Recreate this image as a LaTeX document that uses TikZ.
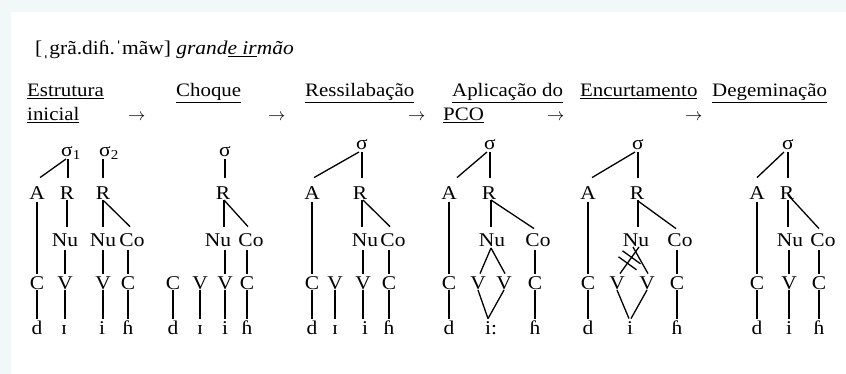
\documentclass[tikz,border=0pt]{standalone}
\usepackage{fontspec}
\setmainfont{Liberation Serif}[FakeStretch=1.1]
\usetikzlibrary{calc}
\definecolor{bgc}{HTML}{F2F7F8}
\tikzset{
  lab/.style={inner sep=0pt, anchor=south, text height=13pt, text depth=0pt, font=\fontsize{19.5}{19.5}\selectfont},
  head/.style={inner sep=0pt, anchor=base west, font=\fontsize{19}{22}\selectfont},
  ln/.style={line width=1.3pt},
}
\def\ys{150}\def\ysa{157}\def\yr{200}\def\yn{247}\def\yc{290}\def\yd{335}
\begin{document}
\begin{tikzpicture}[x=1pt,y=-1pt]
\useasboundingbox (0,0) rectangle (846,374);
\fill[bgc] (0,0) rectangle (846,374);
\fill[white] (11,12) rectangle (846,374);

\node[head, font=\fontsize{19.5}{20}\selectfont] (title) at (35,55) {[ˌgrã.diɦ.ˈmãw] \textit{grand\underline{e ir}mão}};

\node[head] (h1a) at (27,97) {\underline{Estrutura}};
\node[head] (h1b) at (27,121) {\underline{inicial}};
\node[head] (h2) at (176,97) {\underline{Choque}};
\node[head] (h3) at (305,97) {\underline{Ressilabação}};
\node[head] (h4a) at (452,97) {\underline{Aplicação do}};
\node[head] (h4b) at (443,121) {\underline{PCO}};
\node[head] (h5) at (580,97) {\underline{Encurtamento}};
\node[head] (h6) at (712,97) {\underline{Degeminação}};
\node[head] (ar1) at (128,121) {$\rightarrow$};
\node[head] (ar2) at (268,121) {$\rightarrow$};
\node[head] (ar3) at (408,121) {$\rightarrow$};
\node[head] (ar4) at (547,121) {$\rightarrow$};
\node[head] (ar5) at (685,121) {$\rightarrow$};

% ---------- tree 1
\node[lab,anchor=south west] (s1a) at (61,\ysa) {σ\textsubscript{1}};
\node[lab,anchor=south west] (s1b) at (99,\ysa) {σ\textsubscript{2}};
\node[lab] (a1) at (37,\yr) {A};
\node[lab] (r1) at (67,\yr) {R};
\node[lab] (r1b) at (103,\yr) {R};
\node[lab] (n1) at (65,\yn) {Nu};
\node[lab] (n1b) at (103,\yn) {Nu};
\node[lab] (co1) at (132,\yn) {Co};
\node[lab] (c1) at (37,\yc) {C};
\node[lab] (v1) at (65,\yc) {V};
\node[lab] (v1b) at (103,\yc) {V};
\node[lab] (c1b) at (128,\yc) {C};
\node[lab] (d1) at (37,\yd) {d};
\node[lab] (e1) at (64,\yd) {ɪ};
\node[lab] (i1) at (102,\yd) {i};
\node[lab] (h1) at (128,\yd) {ɦ};
\draw[ln] ($(s1a.south west)+(5,2)$) -- ($(a1.north)+(3,-9)$);
\draw[ln] ($(s1a.south west)+(7,2)$) -- ($(r1.north)+(1,-9)$);
\draw[ln] ($(s1b.south west)+(4,2)$) -- ($(r1b.north)+(0,-9)$);
\draw[ln] ($(a1.south)+(0,2)$) -- ($(c1.north)+(0,-3)$);
\draw[ln] (r1.south) -- ($(r1.south |- n1.north)+(0,-7)$);
\draw[ln] (r1b.south) -- ($(n1b.north)+(0,-7)$);
\draw[ln] ($(r1b.south)+(1,1)$) -- ($(co1.north)+(-2,-7)$);
\draw[ln] ($(v1.north |- n1.south)+(0,3)$) -- ($(v1.north)+(0,-3)$);
\draw[ln] ($(v1b.north |- n1b.south)+(0,3)$) -- ($(v1b.north)+(0,-3)$);
\draw[ln] ($(c1b.north |- co1.south)+(0,3)$) -- ($(c1b.north)+(0,-3)$);
\draw[ln] (c1.south) -- ($(d1.north)+(0,-3)$);
\draw[ln] (v1.south) -- ($(v1.south |- e1.north)+(0,-3)$);
\draw[ln] (v1b.south) -- ($(v1b.south |- i1.north)+(0,-3)$);
\draw[ln] (c1b.south) -- ($(h1.north)+(0,-3)$);

% ---------- tree 2
\node[lab] (s2) at (225,\ysa) {σ};
\node[lab] (r2) at (223,\yr) {R};
\node[lab] (n2) at (218,\yn) {Nu};
\node[lab] (co2) at (251,\yn) {Co};
\node[lab] (c2a) at (173,\yc) {C};
\node[lab] (v2a) at (200,\yc) {V};
\node[lab] (v2b) at (225,\yc) {V};
\node[lab] (c2b) at (247,\yc) {C};
\node[lab] (d2) at (173,\yd) {d};
\node[lab] (e2) at (200,\yd) {ɪ};
\node[lab] (i2) at (225,\yd) {i};
\node[lab] (h2n) at (247,\yd) {ɦ};
\draw[ln] ($(s2.south)+(0,2)$) -- ($(s2.south |- r2.north)+(0,-9)$);
\draw[ln] ($(r2.south)+(1,0)$) -- ($(r2.south |- n2.north)+(1,-7)$);
\draw[ln] ($(r2.south)+(1,0)$) -- ($(co2.north)+(-3,-7)$);
\draw[ln] ($(v2b.north |- n2.south)+(0,3)$) -- ($(v2b.north)+(0,-3)$);
\draw[ln] ($(c2b.north |- co2.south)+(0,3)$) -- ($(c2b.north)+(0,-3)$);
\draw[ln] (c2a.south) -- ($(d2.north)+(0,-3)$);
\draw[ln] (v2a.south) -- ($(v2a.south |- e2.north)+(0,-3)$);
\draw[ln] (v2b.south) -- ($(v2b.south |- i2.north)+(0,-3)$);
\draw[ln] (c2b.south) -- ($(h2n.north)+(0,-3)$);

% ---------- tree 3
\node[lab] (s3) at (362,\ys) {σ};
\node[lab] (a3) at (312,\yr) {A};
\node[lab] (r3) at (360,\yr) {R};
\node[lab] (n3) at (365,\yn) {Nu};
\node[lab] (co3) at (393,\yn) {Co};
\node[lab] (c3a) at (312,\yc) {C};
\node[lab] (v3a) at (335,\yc) {V};
\node[lab] (v3b) at (363,\yc) {V};
\node[lab] (c3b) at (389,\yc) {C};
\node[lab] (d3) at (312,\yd) {d};
\node[lab] (e3) at (335,\yd) {ɪ};
\node[lab] (i3) at (365,\yd) {i};
\node[lab] (h3) at (389,\yd) {ɦ};
\draw[ln] ($(s3.south)+(-3,2)$) -- ($(a3.north)+(2,-9)$);
\draw[ln] ($(s3.south)+(0,2)$) -- ($(s3.south |- r3.north)+(0,-9)$);
\draw[ln] ($(a3.south)+(0,2)$) -- ($(c3a.north)+(0,-3)$);
\draw[ln] ($(r3.south)+(2,0)$) -- ($(r3.south |- n3.north)+(2,-7)$);
\draw[ln] ($(r3.south)+(3,0)$) -- ($(co3.north)+(-3,-7)$);
\draw[ln] ($(v3b.north |- n3.south)+(0,3)$) -- ($(v3b.north)+(0,-3)$);
\draw[ln] ($(c3b.north |- co3.south)+(0,3)$) -- ($(c3b.north)+(0,-3)$);
\draw[ln] (c3a.south) -- ($(d3.north)+(0,-3)$);
\draw[ln] (v3a.south) -- ($(v3a.south |- e3.north)+(0,-3)$);
\draw[ln] (v3b.south) -- ($(v3b.south |- i3.north)+(0,-3)$);
\draw[ln] (c3b.south) -- ($(h3.north)+(0,-3)$);

% ---------- tree 4
\node[lab] (s4) at (490,\ys) {σ};
\node[lab] (a4) at (449,\yr) {A};
\node[lab] (r4) at (489,\yr) {R};
\node[lab] (n4) at (492,\yn) {Nu};
\node[lab] (co4) at (538,\yn) {Co};
\node[lab] (c4a) at (449,\yc) {C};
\node[lab] (v4a) at (478,\yc) {V};
\node[lab] (v4b) at (504,\yc) {V};
\node[lab] (c4b) at (535,\yc) {C};
\node[lab] (d4) at (449,\yd) {d};
\node[lab] (i4) at (491,\yd) {i:};
\node[lab] (h4) at (535,\yd) {ɦ};
\draw[ln] ($(s4.south)+(-3,2)$) -- ($(a4.north)+(8,-9)$);
\draw[ln] ($(s4.south)+(0,2)$) -- ($(s4.south |- r4.north)+(0,-9)$);
\draw[ln] ($(a4.south)+(0,2)$) -- ($(c4a.north)+(0,-3)$);
\draw[ln] ($(r4.south)+(2,0)$) -- ($(r4.south |- n4.north)+(2,-7)$);
\draw[ln] ($(r4.south)+(2,0)$) -- ($(co4.north)+(-4,-5)$);
\draw[ln] ($(n4.south)+(-1,1)$) -- ($(v4a.north)+(2,-3)$);
\draw[ln] ($(n4.south)+(-1,1)$) -- ($(v4b.north)+(1,-3)$);
\draw[ln] ($(c4b.north |- co4.south)+(0,3)$) -- ($(c4b.north)+(0,-3)$);
\draw[ln] (c4a.south) -- ($(d4.north)+(0,-3)$);
\draw[ln] (v4a.south) -- ($(i4.north)+(-3,-3)$);
\draw[ln] (v4b.south) -- ($(i4.north)+(-3,-3)$);
\draw[ln] (c4b.south) -- ($(h4.north)+(0,-3)$);

% ---------- tree 5
\node[lab] (s5) at (638,\ys) {σ};
\node[lab] (a5) at (588,\yr) {A};
\node[lab] (r5) at (637,\yr) {R};
\node[lab] (n5) at (636,\yn) {Nu};
\node[lab] (co5) at (680,\yn) {Co};
\node[lab] (c5a) at (588,\yc) {C};
\node[lab] (v5a) at (617,\yc) {V};
\node[lab] (v5b) at (647,\yc) {V};
\node[lab] (c5b) at (677,\yc) {C};
\node[lab] (d5) at (588,\yd) {d};
\node[lab] (i5) at (630,\yd) {i};
\node[lab] (h5n) at (677,\yd) {ɦ};
\draw[ln] ($(s5.south)+(-3,2)$) -- ($(a5.north)+(4,-9)$);
\draw[ln] ($(s5.south)+(0,2)$) -- ($(s5.south |- r5.north)+(0,-9)$);
\draw[ln] ($(a5.south)+(0,2)$) -- ($(c5a.north)+(0,-3)$);
\draw[ln] ($(r5.south)+(1,0)$) -- ($(r5.south |- n5.north)+(1,-7)$);
\draw[ln] ($(r5.south)+(1,1)$) -- ($(co5.north)+(-4,-5)$);
\draw[ln] ($(n5.south)+(3,0)$) -- ($(v5a.north)+(3,-3)$);
\draw[ln] ($(n5.south)+(-3,0)$) -- ($(v5b.north)+(1,-3)$);
\coordinate (m5) at ($(n5.south)!0.5!(v5a.north)+(3,-1.5)$);
\draw[ln] ($(m5)+(-7,-9.5)$) -- ($(m5)+(11,3.5)$);
\draw[ln] ($(m5)+(-11,-3.5)$) -- ($(m5)+(7,9.5)$);
\draw[ln] ($(c5b.north |- co5.south)+(0,3)$) -- ($(c5b.north)+(0,-3)$);
\draw[ln] (c5a.south) -- ($(d5.north)+(0,-3)$);
\draw[ln] (v5a.south) -- ($(i5.north)+(-1,-3)$);
\draw[ln] (v5b.south) -- ($(i5.north)+(1,-3)$);
\draw[ln] (c5b.south) -- ($(h5n.north)+(0,-3)$);

% ---------- tree 6
\node[lab] (s6) at (788,\ys) {σ};
\node[lab] (a6) at (757,\yr) {A};
\node[lab] (r6) at (787,\yr) {R};
\node[lab] (n6) at (790,\yn) {Nu};
\node[lab] (co6) at (823,\yn) {Co};
\node[lab] (c6a) at (757,\yc) {C};
\node[lab] (v6) at (789,\yc) {V};
\node[lab] (c6b) at (819,\yc) {C};
\node[lab] (d6) at (757,\yd) {d};
\node[lab] (i6) at (789,\yd) {i};
\node[lab] (h6n) at (819,\yd) {ɦ};
\draw[ln] ($(s6.south)+(-4,2)$) -- ($(a6.north)+(0,-9)$);
\draw[ln] ($(s6.south)+(0,2)$) -- ($(s6.south |- r6.north)+(0,-9)$);
\draw[ln] ($(a6.south)+(0,2)$) -- ($(c6a.north)+(0,-3)$);
\draw[ln] ($(r6.south)+(1,0)$) -- ($(r6.south |- n6.north)+(1,-7)$);
\draw[ln] ($(r6.south)+(1,-5)$) -- ($(co6.north)+(-4,-5)$);
\draw[ln] ($(v6.north |- n6.south)+(0,3)$) -- ($(v6.north)+(0,-3)$);
\draw[ln] ($(c6b.north |- co6.south)+(0,3)$) -- ($(c6b.north)+(0,-3)$);
\draw[ln] (c6a.south) -- ($(d6.north)+(0,-3)$);
\draw[ln] (v6.south) -- ($(v6.south |- i6.north)+(0,-3)$);
\draw[ln] (c6b.south) -- ($(h6n.north)+(0,-3)$);
\end{tikzpicture}
\end{document}
